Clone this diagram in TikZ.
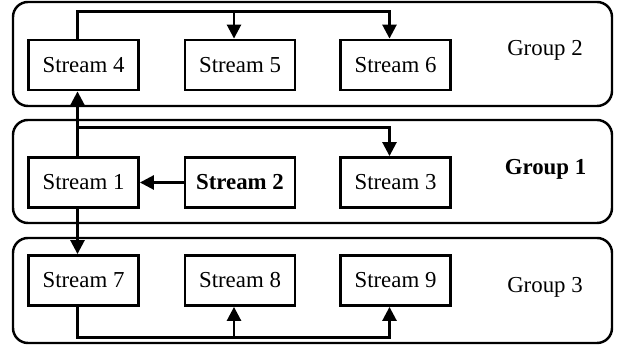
\documentclass[tikz,border=0pt]{standalone}
\usepackage{fontspec}
\setmainfont{Liberation Serif}
\usetikzlibrary{arrows.meta,calc,positioning}

\begin{document}
\begin{tikzpicture}[font=\fontsize{13}{15}\selectfont,>={Triangle[length=8pt,width=8pt]},
  stream/.style={draw,line width=1.6pt,minimum width=2.2cm,minimum height=1cm,inner sep=0pt},
  grp/.style={draw,line width=1.4pt,rounded corners=8.5pt},
  link/.style={line width=1.5pt}]
  \useasboundingbox (0,0) rectangle (12.38,6.94);
  % group frames
  \draw[grp] (0.26,4.82) rectangle (12.24,6.90);
  \draw[grp] (0.26,2.48) rectangle (12.24,4.54);
  \draw[grp] (0.26,0.08) rectangle (12.24,2.18);
  \node (g2) at (10.9,5.94) {Group 2};
  \node[font=\fontsize{13}{15}\selectfont\bfseries] (g1) at (10.91,3.55) {Group 1};
  \node (g3) at (10.9,1.20) {Group 3};

  \node[stream] (s4) at (1.67,5.64) {Stream 4};
  \node[stream] (s5) at (4.80,5.64) {Stream 5};
  \node[stream] (s6) at (7.91,5.64) {Stream 6};
  \node[stream] (s1) at (1.67,3.29) {Stream 1};
  \node[stream,font=\fontsize{13}{15}\selectfont\bfseries] (s2) at (4.80,3.29) {Stream 2};
  \node[stream] (s3) at (7.91,3.29) {Stream 3};
  \node[stream] (s7) at (1.67,1.33) {Stream 7};
  \node[stream] (s8) at (4.80,1.33) {Stream 8};
  \node[stream] (s9) at (7.91,1.33) {Stream 9};

  % group 2
  \draw[link,->] ([xshift=-.12cm]s4.north) -- ++(0,.54) -| ([xshift=-.12cm]s6.north);
  \draw[link,->] ([xshift=-.12cm,yshift=.54cm]s5.north) -- ([xshift=-.12cm]s5.north);
  % group 1
  \draw[link,->] ([xshift=-.12cm]s1.north) -- ([xshift=-.12cm]s4.south);
  \draw[link,->] ([xshift=-.12cm,yshift=.57cm]s1.north) -| ([xshift=-.12cm]s3.north);
  \draw[link,->] (s2) -- (s1);
  \draw[link,->] ([xshift=-.12cm]s1.south) -- ([xshift=-.12cm]s7.north);
  % group 3
  \draw[link,->] ([xshift=-.12cm]s7.south) -- ++(0,-.61) -| ([xshift=-.12cm]s9.south);
  \draw[link,->] ([xshift=-.12cm,yshift=-.61cm]s8.south) -- ([xshift=-.12cm]s8.south);
\end{tikzpicture}
\end{document}
